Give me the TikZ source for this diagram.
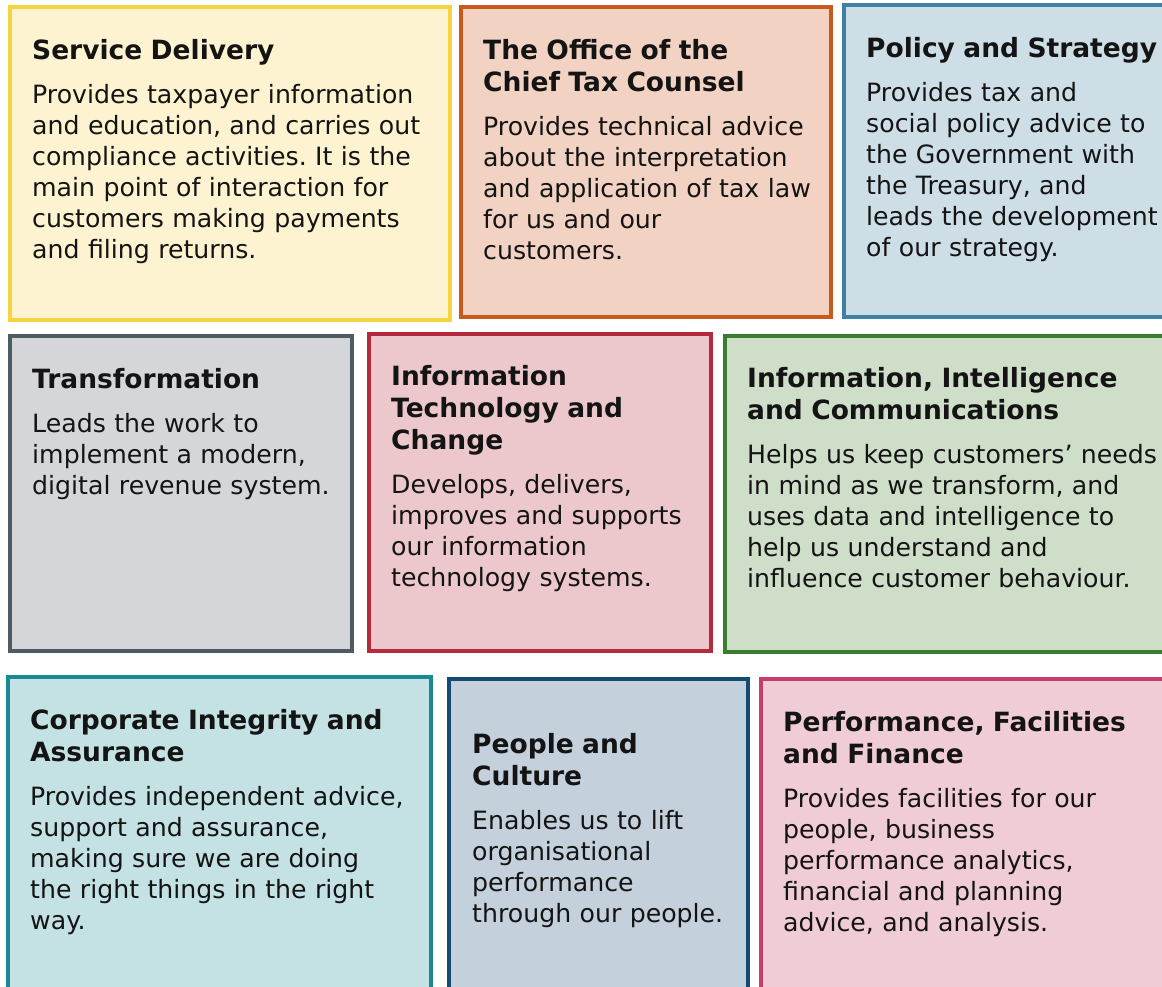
\documentclass[tikz,border=0pt]{standalone}
\usepackage{fontspec}
\setmainfont{DejaVu Sans}
\usetikzlibrary{positioning}
\frenchspacing

% border and fill colours of the groups
\definecolor{sdline}{HTML}{F5D53F}   \definecolor{sdfill}{HTML}{FDF3D0}
\definecolor{ocline}{HTML}{C95A1E}   \definecolor{ocfill}{HTML}{F1D2C3}
\definecolor{psline}{HTML}{3F80A5}   \definecolor{psfill}{HTML}{CDDEE7}
\definecolor{trline}{HTML}{4F5A63}   \definecolor{trfill}{HTML}{D5D6D9}
\definecolor{itline}{HTML}{B42A3C}   \definecolor{itfill}{HTML}{ECC8CD}
\definecolor{icline}{HTML}{3B7D30}   \definecolor{icfill}{HTML}{CFDEC9}
\definecolor{ciline}{HTML}{178A94}   \definecolor{cifill}{HTML}{C4E1E3}
\definecolor{pcline}{HTML}{154A73}   \definecolor{pcfill}{HTML}{C4D0DC}
\definecolor{pfline}{HTML}{C83C6A}   \definecolor{pffill}{HTML}{EFCCD6}

\tikzset{
	unit/.style={line width=4pt},
	unittext/.style={anchor=base west, inner sep=0pt, text width=430pt,
		align=left, text=black!92, font=\fontsize{25.2}{31}\selectfont}
}
% bold heading above the description
\newcommand{\unithead}[1]{{\fontsize{26.5}{32}\selectfont\bfseries #1\par}\vspace{13pt}}

\begin{document}
\begin{tikzpicture}[x=1pt,y=-1pt]
	\useasboundingbox (0,0) rectangle (1162,986);
	\clip (0,0) rectangle (1162,986);

	% first row
	\filldraw[unit,draw=sdline,fill=sdfill] (10,7) rectangle (449.5,319.5);
	\filldraw[unit,draw=ocline,fill=ocfill] (461,7) rectangle (830.5,317);
	\filldraw[unit,draw=psline,fill=psfill] (844,5) rectangle (1175,317);

	\node[unittext] (sd) at (32,59) {\unithead{Service Delivery}
		Provides taxpayer information\\ and education, and carries out\\
		compliance activities. It is the\\ main point of interaction for\\
		customers making payments\\ and filing returns.};
	\node[unittext] (oc) at (483,59) {\unithead{The Office of the\\ Chief Tax Counsel}
		Provides technical advice\\ about the interpretation\\
		and application of tax law\\ for us and our\\ customers.};
	\node[unittext] (ps) at (866,57) {\unithead{Policy and Strategy}
		Provides tax and\\ social policy advice to\\ the Government with\\
		the Treasury, and\\ leads the development\\ of our strategy.};

	% second row
	\filldraw[unit,draw=trline,fill=trfill] (10,336) rectangle (351.5,651);
	\filldraw[unit,draw=itline,fill=itfill] (369,334) rectangle (710.5,651);
	\filldraw[unit,draw=icline,fill=icfill] (725,336) rectangle (1175,652);

	\node[unittext] (tr) at (32,388) {\unithead{Transformation}
		Leads the work to\\ implement a modern,\\ digital revenue system.};
	\node[unittext] (it) at (391,385) {\unithead{Information\\ Technology and\\ Change}
		Develops, delivers,\\ improves and supports\\ our information\\
		technology systems.};
	\node[unittext] (ic) at (747,387) {\unithead{Information, Intelligence\\ and Communications}
		Helps us keep customers’ needs\\ in mind as we transform, and\\
		uses data and intelligence to\\ help us understand and\\
		influence customer behaviour.};

	% third row
	\filldraw[unit,draw=ciline,fill=cifill] (8,677) rectangle (430.5,1000);
	\filldraw[unit,draw=pcline,fill=pcfill] (449,679) rectangle (747.5,1000);
	\filldraw[unit,draw=pfline,fill=pffill] (761,679) rectangle (1175,1000);

	\node[unittext] (ci) at (30,729) {\unithead{Corporate Integrity and\\ Assurance}
		Provides independent advice,\\ support and assurance,\\
		making sure we are doing\\ the right things in the right\\ way.};
	\node[unittext] (pc) at (472,753) {\unithead{People and\\ Culture}
		Enables us to lift\\ organisational\\ performance\\ through our people.};
	\node[unittext] (pf) at (783,731) {\unithead{Performance, Facilities\\ and Finance}
		Provides facilities for our\\ people, business\\
		performance analytics,\\ financial and planning\\ advice, and analysis.};
\end{tikzpicture}
\end{document}
